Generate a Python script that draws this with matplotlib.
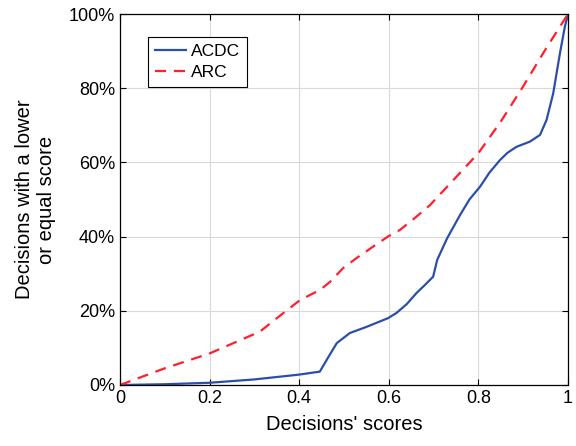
import numpy as np
import matplotlib
matplotlib.use("Agg")
import matplotlib.pyplot as plt
from matplotlib.ticker import PercentFormatter

plt.rcParams['font.family'] = ['Liberation Sans', 'DejaVu Sans']

# curva ACDC
acdc_x = [0, 0.1, 0.2, 0.3, 0.4, 0.446, 0.465, 0.484, 0.513, 0.551, 0.598, 0.617, 0.64,
          0.662, 0.681, 0.699, 0.708, 0.73, 0.759, 0.78, 0.804, 0.825, 0.848, 0.865,
          0.885, 0.915, 0.9375, 0.952, 0.967, 0.982, 0.993, 1.0]
acdc_y = [0, 0.2, 0.6, 1.5, 2.8, 3.6, 7.5, 11.3, 14.0, 15.7, 18.0, 19.4, 21.8, 24.8,
          27.0, 29.2, 33.7, 39.5, 45.8, 50.0, 53.5, 57.3, 60.6, 62.6, 64.2, 65.6, 67.4,
          71.4, 78.6, 89.4, 96.6, 100]
# curva ARC
arc_x = [0, 0.1, 0.2, 0.3125, 0.35, 0.402, 0.446, 0.469, 0.498, 0.528, 0.565, 0.598,
         0.625, 0.662, 0.692, 0.75, 0.8, 0.85, 0.9, 0.95, 1.0]
arc_y = [0, 4.5, 8.5, 14.4, 18.0, 22.9, 25.6, 27.8, 31.5, 34.2, 37.3, 40.0, 41.8, 45.4,
         48.5, 56.0, 62.5, 71.0, 80.5, 90.5, 100]

fig = plt.figure(figsize=(5.76, 4.46), dpi=100)
ax = fig.add_axes([0.2083, 0.1368, 0.7778, 0.8318])

ax.plot(acdc_x, acdc_y, color='#2b4ea8', lw=1.6, label='ACDC')
ax.plot(arc_x, arc_y, color='#ff1f2d', lw=1.6, ls=(0, (5, 3.5)), label='ARC')

ax.set_xlim(0, 1)
ax.set_ylim(0, 100)
ax.set_xticks([0, 0.2, 0.4, 0.6, 0.8, 1])
ax.set_xticklabels(['0', '0.2', '0.4', '0.6', '0.8', '1'])
ax.set_yticks([0, 20, 40, 60, 80, 100])
ax.yaxis.set_major_formatter(PercentFormatter(decimals=0))
ax.tick_params(direction='in', top=True, right=True, labelsize=13, length=4, width=0.8)
ax.grid(True, color='#d9d9d9', lw=0.8)
ax.set_axisbelow(True)
for s in ax.spines.values():
    s.set_linewidth(0.9)

ax.set_xlabel("Decisions' scores", fontsize=14.5, labelpad=6)
ax.set_ylabel("Decisions with a lower\nor equal score", fontsize=14.5, labelpad=9)

leg = ax.legend(loc='upper left', bbox_to_anchor=(0.062, 0.938), fontsize=12.5,
                fancybox=False, framealpha=1, edgecolor='black', handlelength=1.8,
                borderpad=0.4, labelspacing=0.35, handletextpad=0.3, borderaxespad=0)
leg.get_frame().set_linewidth(0.8)

fig.savefig("out.png", dpi=100)
